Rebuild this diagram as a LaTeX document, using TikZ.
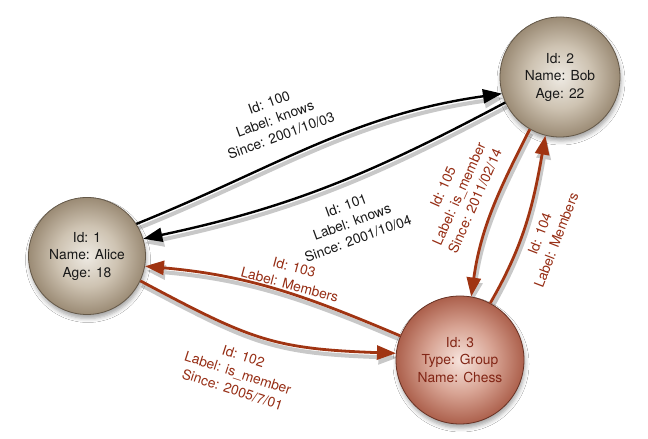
\documentclass[tikz,border=0pt]{standalone}
\usepackage{fontspec}
\setmainfont{TeX Gyre Heros}
\usetikzlibrary{arrows.meta,shadows,shadows.blur,backgrounds}
\definecolor{beigeIn}{RGB}{238,234,227}
\definecolor{beigeMid}{RGB}{206,195,178}
\definecolor{beigeOut}{RGB}{155,139,117}
\definecolor{beigeLine}{RGB}{100,88,72}
\definecolor{rustIn}{RGB}{247,228,221}
\definecolor{rustMid}{RGB}{216,164,148}
\definecolor{rustOut}{RGB}{172,96,76}
\definecolor{rustLine}{RGB}{105,50,36}
\definecolor{rustText}{RGB}{130,38,22}
\definecolor{edgeRust}{RGB}{160,52,18}
\definecolor{labelRust}{RGB}{150,45,20}
\definecolor{inkGray}{RGB}{25,25,25}
\definecolor{shadowGray}{RGB}{200,200,200}
\pgfdeclareradialshading{beigeball}{\pgfpoint{0bp}{0bp}}{color(0bp)=(beigeIn); color(13bp)=(beigeMid); color(25bp)=(beigeOut); color(50bp)=(beigeOut)}
\pgfdeclareradialshading{rustball}{\pgfpoint{0bp}{0bp}}{color(0bp)=(rustIn); color(13bp)=(rustMid); color(25bp)=(rustOut); color(50bp)=(rustOut)}
\tikzset{
  txt/.style={font={\fontsize{13.8}{17.5}\selectfont}, align=center},
  person/.style={circle, txt, draw=beigeLine, line width=0.8pt, shading=beigeball, text=inkGray,
    blur shadow={shadow xshift=1pt, shadow yshift=-4pt, shadow blur radius=4pt, shadow opacity=35}},
  group/.style={circle, txt, draw=rustLine, line width=0.8pt, shading=rustball, text=rustText,
    blur shadow={shadow xshift=1pt, shadow yshift=-4pt, shadow blur radius=4pt, shadow opacity=35}},
  tipshape/.style={-{Triangle[length=19pt,width=14pt]}},
  shadowline/.style={draw=shadowGray, line width=4pt, tipshape},
  blackedge/.style={draw=black, line width=2.4pt, tipshape},
  rustedge/.style={draw=edgeRust, line width=2.8pt, tipshape},
  blacklabel/.style={txt, text=inkGray, inner sep=0pt},
  rustlabel/.style={txt, text=labelRust, inner sep=0pt},
  e100/.style={out=22, in=188},
  e101/.style={out=208, in=12},
  e103/.style={out=157, in=355},
  e102/.style={out=-28, in=178, looseness=1.2},
  e105/.style={out=243, in=82},
  e104/.style={out=60, in=260}
}
\begin{document}
\begin{tikzpicture}[x=1pt,y=1pt]
\useasboundingbox (0,0) rectangle (648,439);

% nodes
\node[person, minimum size=117pt] (alice) at (87,183) {Id: 1\\Name: Alice\\Age: 18};
\node[person, minimum size=120pt] (bob) at (560,362) {Id: 2\\Name: Bob\\Age: 22};
\node[group, minimum size=128pt] (chess) at (460,79) {Id: 3\\Type: Group\\Name: Chess};

% background and connector shadows
\begin{pgfonlayer}{background}
\fill[white] (0,0) rectangle (648,439);
\begin{scope}[transform canvas={shift={(1.5pt,-4.5pt)}}]
\draw[shadowline] (alice.33) to[e100] (bob.196);
\draw[shadowline] (bob.205) to[e101] (alice.17);
\draw[shadowline] (chess.158) to[e103] (alice.350);
\draw[shadowline] (alice.335) to[e102] (chess.174);
\draw[shadowline] (bob.240) to[e105] (chess.80);
\draw[shadowline] (chess.62) to[e104] (bob.256);
\end{scope}
\end{pgfonlayer}

% edges
\draw[blackedge] (alice.33) to[e100] (bob.196);
\draw[blackedge] (bob.205) to[e101] (alice.17);
\draw[rustedge] (chess.158) to[e103] (alice.350);
\draw[rustedge] (alice.335) to[e102] (chess.174);
\draw[rustedge] (bob.240) to[e105] (chess.80);
\draw[rustedge] (chess.62) to[e104] (bob.256);

% edge labels
\node[blacklabel, rotate=20] (l100) at (275,320) {Id: 100\\Label: knows\\Since: 2001/10/03};
\node[blacklabel, rotate=20] (l101) at (352,217) {Id: 101\\Label: knows\\Since: 2001/10/04};
\node[rustlabel, rotate=-15] (l103) at (292,163) {Id: 103\\Label: Members};
\node[rustlabel, rotate=-18] (l102) at (238,66) {Id: 102\\Label: is\_member\\Since: 2005/7/01};
\node[rustlabel, rotate=66] (l105) at (459,245) {Id: 105\\Label: is\_member\\Since: 2011/02/14};
\node[rustlabel, rotate=69] (l104) at (548,202) {Id: 104\\Label: Members};
\end{tikzpicture}
\end{document}
